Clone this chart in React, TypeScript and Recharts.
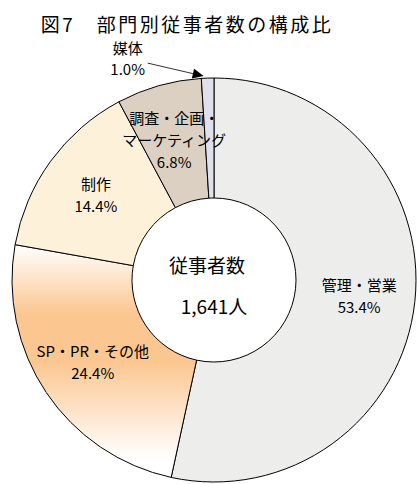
import React from 'react';
import { PieChart, Pie, Cell } from 'recharts';

const FONT = '"Noto Sans CJK JP", "Noto Sans", sans-serif';

const title = '図7　部門別従事者数の構成比';
const categories = ['管理・営業', 'SP・PR・その他', '制作', '調査・企画・マーケティング', '媒体'];
const shares = [53.4, 24.4, 14.4, 6.8, 1.0];
const labelLines = [['管理・営業'], ['SP・PR・その他'], ['制作'], ['調査・企画・', 'マーケティング'], ['媒体']];
const totalLabel = ['従事者数', '1,641人'];
const fills = ['#ededeb', 'url(#spGrad)', '#fdf1da', '#dbd0c1', '#dfe0eb'];

const data = categories.map((name, i) => ({ name, value: shares[i] }));

const RAD = Math.PI / 180;

const renderLabel = (props: any) => {
  const { cx, cy, midAngle, outerRadius, index } = props;
  const lines = [...labelLines[index], shares[index].toFixed(1) + '%'];
  const font = { fontFamily: FONT, fontSize: 15, fill: '#000' };
  const cosA = Math.cos(-midAngle * RAD);
  const sinA = Math.sin(-midAngle * RAD);
  if (index === shares.length - 1) {
    const tx = cx + outerRadius * cosA - 4;
    const ty = cy + outerRadius * sinA - 2;
    const sx = tx - 56;
    const sy = ty - 13;
    const dx = tx - sx;
    const dy = ty - sy;
    const len = Math.sqrt(dx * dx + dy * dy);
    const ux = dx / len;
    const uy = dy / len;
    const al = 11;
    const aw = 5;
    const bx = tx - ux * al;
    const by = ty - uy * al;
    return (
      <g>
        <line x1={sx} y1={sy} x2={bx} y2={by} stroke="#000" strokeWidth={0.8} />
        <polygon
          points={`${tx},${ty} ${bx - uy * aw},${by + ux * aw} ${bx + uy * aw},${by - ux * aw}`}
          fill="#000"
        />
        {lines.map((t, i) => (
          <text key={i} x={tx - 76} y={ty - 29 + i * 21} textAnchor="middle" dominantBaseline="central" {...font}>
            {t}
          </text>
        ))}
      </g>
    );
  }
  const r = 146;
  const x = cx + r * cosA;
  const y = cy + r * sinA;
  const lh = 22;
  const y0 = y - ((lines.length - 1) * lh) / 2;
  return (
    <g>
      {lines.map((t, i) => (
        <text key={i} x={x} y={y0 + i * lh} textAnchor="middle" dominantBaseline="central" {...font}>
          {t}
        </text>
      ))}
      {index === 0 ? (
        <g>
          <text x={cx - 7} y={cy - 16} textAnchor="middle" dominantBaseline="central" fontFamily={FONT} fontSize={19} fill="#000">
            {totalLabel[0]}
          </text>
          <text x={cx} y={cy + 25} textAnchor="middle" dominantBaseline="central" fontFamily={FONT} fontSize={19} fill="#000">
            {totalLabel[1]}
          </text>
        </g>
      ) : null}
    </g>
  );
};

export default function App() {
  return (
    <div style={{ position: 'absolute', left: 0, top: 0, width: 417, height: 484, background: '#fff' }}>
      <div
        style={{
          position: 'absolute',
          left: 0,
          top: 14,
          width: 374,
          textAlign: 'center',
          fontFamily: FONT,
          fontSize: 19,
          letterSpacing: 2.5,
          lineHeight: '20px',
          color: '#000',
          whiteSpace: 'nowrap',
        }}
      >
        {title}
      </div>
      <PieChart width={417} height={484} margin={{ top: 0, right: 0, bottom: 0, left: 0 }} style={{ position: 'absolute', left: 0, top: 0 }}>
        <defs>
          <linearGradient id="spGrad" x1="0" y1="0" x2="0" y2="1">
            <stop offset="0" stopColor="#ffffff" />
            <stop offset="0.3" stopColor="#fbc690" />
            <stop offset="0.5" stopColor="#fbc690" />
            <stop offset="0.92" stopColor="#ffffff" />
            <stop offset="1" stopColor="#ffffff" />
          </linearGradient>
        </defs>
        <Pie
          data={data}
          dataKey="value"
          nameKey="name"
          cx={214}
          cy={280}
          innerRadius={82}
          outerRadius={202}
          startAngle={90}
          endAngle={-270}
          stroke="#000"
          strokeWidth={1}
          isAnimationActive={false}
          labelLine={false}
          label={renderLabel}
        >
          {data.map((d, i) => (
            <Cell key={d.name} fill={fills[i]} />
          ))}
        </Pie>
      </PieChart>
    </div>
  );
}
